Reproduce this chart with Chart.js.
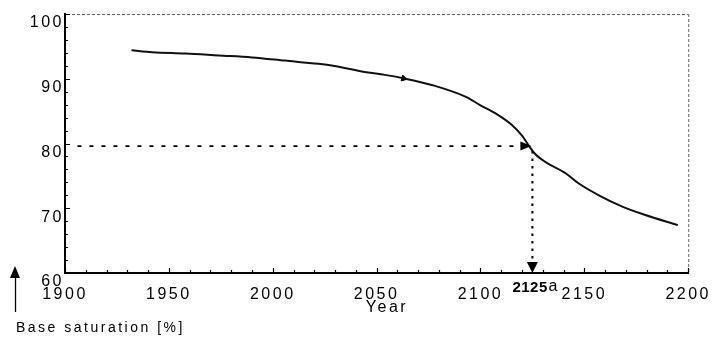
<!DOCTYPE html>
<html><head><meta charset="utf-8">
<script src="https://cdn.jsdelivr.net/npm/chart.js@4/dist/chart.umd.min.js"></script>
<style>html,body{margin:0;padding:0;background:#fff}</style>
</head><body>
<canvas id="c" width="723" height="337"></canvas>
<script>
// ---- data ----
const years = [1932, 1942, 1958, 1974, 1990, 2006, 2022, 2029, 2045, 2054, 2064, 2077, 2093, 2100, 2108, 2115, 2120, 2123, 2126, 2131, 2141, 2147, 2157, 2168, 2179, 2195];
const saturation = [94.4, 94.1, 93.9, 93.6, 93.3, 92.8, 92.3, 92.0, 91.0, 90.6, 90.0, 89.0, 87.2, 85.9, 84.5, 82.9, 81.2, 79.8, 78.5, 77.2, 75.4, 73.9, 72.0, 70.3, 69.0, 67.4];
const xTickValues = [1900, 1950, 2000, 2050, 2100, 2150, 2200];
const yTickValues = [60, 70, 80, 90, 100];
const markerYear = 2125;
const markerLevel = 79.6;
const markerStartYear = 1906;
const markerLabel = '2125';
const markerUnit = 'a';
const curveArrowYear = 2063;
const curveArrowLevel = 90.05;
const xTitle = '   Year';
const yTitle = 'Base saturation [%]';

const FONT = "'Liberation Sans', Arial, sans-serif";
const SPACING = '2.5px';

const points = years.map((y, i) => ({x: y, y: saturation[i]}));

const spacingPlugin = {
  id: 'spacing',
  beforeUpdate(chart) { chart.ctx.letterSpacing = SPACING; },
  beforeDraw(chart) { chart.ctx.letterSpacing = SPACING; }
};

const decorPlugin = {
  id: 'decor',
  afterDraw(chart) {
    const ctx = chart.ctx;
    const xs = chart.scales.x, ys = chart.scales.y;
    const ca = chart.chartArea;
    ctx.save();
    // dotted frame top & right
    ctx.strokeStyle = '#666';
    ctx.lineWidth = 1;
    ctx.setLineDash([3, 2]);
    ctx.beginPath();
    ctx.moveTo(ca.left + 2, ca.top + 0.5); ctx.lineTo(ca.right, ca.top + 0.5);
    ctx.moveTo(ca.right + 0.5, ca.top); ctx.lineTo(ca.right + 0.5, ca.bottom);
    ctx.stroke();
    ctx.setLineDash([]);
    // inward ticks
    ctx.strokeStyle = '#000';
    ctx.lineWidth = 1.2;
    ctx.beginPath();
    for (let v = ys.min; v <= ys.max; v += 2) {
      const py = Math.round(ys.getPixelForValue(v)) + 0.5;
      const len = v % 10 === 0 ? 5 : 3;
      ctx.moveTo(ca.left, py); ctx.lineTo(ca.left + len, py);
    }
    for (let v = xs.min; v <= xs.max; v += 10) {
      const px = Math.round(xs.getPixelForValue(v)) + 0.5;
      const len = v % 50 === 0 ? 5 : 3;
      ctx.moveTo(px, ca.bottom); ctx.lineTo(px, ca.bottom - len);
    }
    ctx.stroke();
    // marker lines
    const mx = xs.getPixelForValue(markerYear);
    const my = ys.getPixelForValue(markerLevel);
    const x0 = xs.getPixelForValue(markerStartYear);
    ctx.strokeStyle = '#000';
    ctx.lineWidth = 1.6;
    ctx.setLineDash([4, 8]);
    ctx.beginPath();
    ctx.moveTo(x0, my); ctx.lineTo(mx - 12, my);
    ctx.stroke();
    ctx.setLineDash([2.5, 5]);
    ctx.lineWidth = 2;
    ctx.beginPath();
    ctx.moveTo(mx, my + 5); ctx.lineTo(mx, ca.bottom - 10);
    ctx.stroke();
    ctx.setLineDash([]);
    ctx.fillStyle = '#000';
    // right-pointing arrowhead
    ctx.beginPath();
    ctx.moveTo(mx - 1, my); ctx.lineTo(mx - 12, my - 4.5); ctx.lineTo(mx - 12, my + 4.5); ctx.closePath();
    ctx.fill();
    // down arrowhead
    ctx.beginPath();
    ctx.moveTo(mx, ca.bottom); ctx.lineTo(mx - 5.5, ca.bottom - 11); ctx.lineTo(mx + 5.5, ca.bottom - 11); ctx.closePath();
    ctx.fill();
    // marker label
    ctx.letterSpacing = '0.5px';
    ctx.font = 'bold 15px ' + FONT;
    ctx.textBaseline = 'alphabetic';
    ctx.textAlign = 'left';
    ctx.fillText(markerLabel, mx - 20, ca.bottom + 19);
    ctx.font = '16px ' + FONT;
    ctx.fillText(markerUnit, mx + 16, ca.bottom + 18);
    // y title with up arrow
    ctx.beginPath();
    ctx.moveTo(15, 266); ctx.lineTo(10, 278); ctx.lineTo(20, 278); ctx.closePath();
    ctx.fill();
    ctx.lineWidth = 1.3;
    ctx.beginPath();
    ctx.moveTo(15.5, 277); ctx.lineTo(15.5, 312);
    ctx.stroke();
    ctx.letterSpacing = '2.5px';
    ctx.font = '14px ' + FONT;
    ctx.fillText(yTitle, 16, 332);
    ctx.restore();
    ctx.letterSpacing = SPACING;
  }
};

new Chart(document.getElementById('c'), {
  type: 'scatter',
  data: {
    datasets: [{
      data: points,
      showLine: true,
      borderColor: '#111',
      borderWidth: 2,
      pointRadius: 0,
      cubicInterpolationMode: 'monotone',
      fill: false
    }, {
      data: [{x: curveArrowYear, y: curveArrowLevel}],
      showLine: false,
      pointStyle: 'triangle',
      rotation: 105,
      pointRadius: 3.5,
      backgroundColor: '#000',
      borderColor: '#000',
      borderWidth: 1
    }]
  },
  options: {
    responsive: false,
    animation: false,
    devicePixelRatio: 1,
    layout: {padding: {top: 14, right: 32, left: 0, bottom: 0}},
    plugins: {legend: {display: false}, tooltip: {enabled: false}},
    scales: {
      x: {
        type: 'linear',
        min: 1900, max: 2200,
        afterBuildTicks: s => { s.ticks = xTickValues.map(v => ({value: v})); },
        afterFit: s => { s.height = 64; },
        grid: {display: false, drawTicks: false},
        border: {display: true, color: '#000', width: 2},
        ticks: {
          color: '#000',
          padding: 12,
          maxRotation: 0,
          autoSkip: false,
          font: {family: FONT, size: 16},
          callback: v => String(v)
        },
        title: {
          display: true, text: xTitle, color: '#000',
          font: {family: FONT, size: 16},
          padding: {top: 0, bottom: 20}
        }
      },
      y: {
        type: 'linear',
        min: 60, max: 100,
        afterBuildTicks: s => { s.ticks = yTickValues.map(v => ({value: v})); },
        afterFit: s => { s.width = 65; },
        grid: {display: false, drawTicks: false},
        border: {display: true, color: '#000', width: 2},
        ticks: {
          color: '#000',
          padding: 1,
          labelOffset: 9,
          font: {family: FONT, size: 16},
          callback: v => String(v)
        }
      }
    }
  },
  plugins: [spacingPlugin, decorPlugin]
});
</script>
</body></html>
